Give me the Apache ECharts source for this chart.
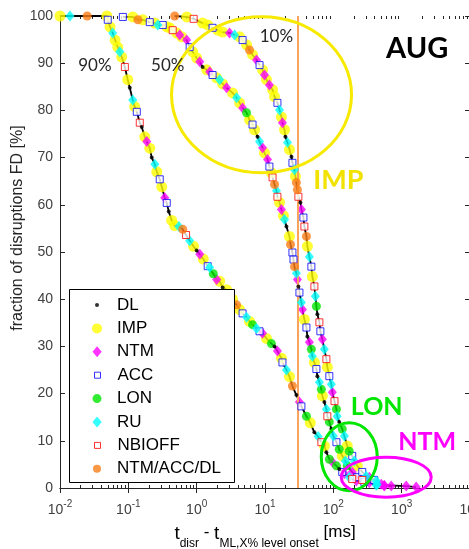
<!DOCTYPE html>
<html>
<head>
<meta charset="utf-8">
<script src="https://cdn.jsdelivr.net/npm/echarts@6/dist/echarts.min.js"></script>
<style>
  html, body { margin: 0; padding: 0; background: #fff; }
  #chart { width: 469px; height: 549px; }
</style>
</head>
<body>
<div id="chart"></div>
<script>
// category codes: D=DL I=IMP N=NTM A=ACC L=LON R=RU B=NBIOFF O=NTM/ACC/DL
const categoryCodes = ["D", "I", "N", "A", "L", "R", "B", "O"];
const categoryNames = ["DL", "IMP", "NTM", "ACC", "LON", "RU", "NBIOFF", "NTM/ACC/DL"];

// [t_disr - t_ML (ms), FD (%), category]
const curve90 = [
  [0.010, 100, "I"], [0.014, 100, "R"], [0.025, 100, "O"], [0.0485, 100, "I"],
  [0.050, 99.2, "A"], [0.054, 97.7, "I"], [0.059, 96.4, "R"], [0.064, 94.9, "I"],
  [0.070, 93.4, "I"], [0.075, 92.4, "R"], [0.080, 91.3, "I"], [0.089, 89.2, "B"],
  [0.098, 86.5, "I"], [0.105, 84.8, "D"], [0.116, 82.2, "R"], [0.124, 80.8, "I"],
  [0.133, 79.7, "A"], [0.147, 77.4, "B"], [0.157, 76.5, "D"], [0.174, 74.4, "I"],
  [0.186, 73.4, "N"], [0.206, 72.0, "I"], [0.220, 70.0, "D"], [0.244, 68.6, "R"],
  [0.261, 67.0, "I"], [0.288, 65.4, "A"], [0.308, 63.8, "I"], [0.341, 61.5, "N"],
  [0.365, 60.4, "A"], [0.390, 58.6, "D"], [0.431, 56.7, "I"], [0.477, 55.6, "I"],
  [0.55, 55.4, "R"], [0.625, 54.8, "O"], [0.70, 53.6, "B"], [0.79, 52.4, "R"],
  [0.90, 51.2, "I"], [1.00, 50.3, "D"], [1.11, 49.5, "N"], [1.25, 48.5, "I"],
  [1.45, 47.0, "A"], [1.55, 46.7, "R"], [1.75, 45.4, "L"], [1.96, 44.2, "N"],
  [2.17, 43.8, "I"], [2.40, 42.5, "D"], [2.74, 42.0, "I"], [3.03, 41.0, "R"],
  [3.35, 40.0, "I"], [3.84, 38.8, "O"], [4.25, 37.8, "I"], [4.70, 37.0, "A"],
  [5.37, 36.2, "R"], [5.94, 35.3, "I"], [6.57, 34.6, "L"], [7.52, 33.8, "R"],
  [8.32, 33.2, "A"], [9.20, 32.8, "N"], [10.5, 31.7, "I"], [12.4, 30.6, "L"],
  [13.8, 30.0, "D"], [15.2, 29.0, "N"], [17.4, 27.5, "I"], [18.0, 26.6, "A"],
  [20.6, 25.0, "R"], [22.8, 23.6, "I"], [25.2, 21.6, "O"], [28.8, 19.7, "D"],
  [31.9, 18.2, "N"], [34.1, 17.3, "A"], [40.4, 15.2, "L"], [46, 13.8, "I"],
  [52.8, 11.8, "D"], [60, 10.9, "R"], [66.8, 9.7, "B"], [73.9, 8.9, "I"],
  [79.1, 7.6, "D"], [87.4, 6.1, "L"], [96.7, 5.5, "N"], [111, 4.7, "L"],
  [122, 4.0, "D"], [135, 3.4, "A"], [145, 3.0, "N"], [171, 2.3, "R"],
  [189, 1.9, "B"], [217, 1.5, "N"], [284, 1.3, "A"], [439, 0.8, "R"],
  [556, 0.6, "N"], [1165, 0.4, "N"], [1630, 0.2, "N"]
];

const curve50 = [
  [0.0832, 99.8, "A"], [0.116, 99.8, "I"], [0.138, 99.2, "O"], [0.163, 99.2, "I"],
  [0.206, 98.7, "A"], [0.244, 98.5, "I"], [0.270, 98.1, "R"], [0.319, 98.1, "A"],
  [0.365, 97.7, "I"], [0.403, 97.5, "I"], [0.446, 97.0, "B"], [0.511, 96.4, "I"],
  [0.565, 96.0, "N"], [0.604, 95.6, "I"], [0.715, 94.9, "N"], [0.79, 93.4, "A"],
  [0.875, 92.4, "I"], [1.00, 91.1, "I"], [1.11, 90.3, "N"], [1.22, 89.2, "D"],
  [1.40, 88.6, "I"], [1.55, 88.2, "N"], [1.71, 87.5, "A"], [1.96, 86.9, "I"],
  [2.17, 86.5, "R"], [2.40, 85.6, "I"], [2.74, 84.8, "N"], [3.35, 83.7, "I"],
  [3.84, 82.7, "R"], [4.25, 81.6, "I"], [4.70, 80.5, "N"], [5.37, 79.5, "L"],
  [5.94, 78.0, "I"], [6.57, 77.0, "A"], [7.03, 75.9, "I"], [7.78, 74.4, "D"],
  [8.32, 73.4, "R"], [9.20, 72.1, "N"], [9.84, 71.0, "I"], [10.9, 69.6, "N"],
  [11.6, 68.1, "A"], [12.4, 66.8, "I"], [12.9, 65.8, "B"], [13.8, 64.3, "O"],
  [14.7, 63.0, "R"], [15.2, 61.7, "B"], [16.3, 60.5, "I"], [17.4, 59.0, "N"],
  [18.6, 57.7, "I"], [19.3, 56.9, "R"], [20.6, 55.4, "D"], [22.8, 53.3, "I"],
  [23.6, 51.6, "O"], [25.2, 49.9, "A"], [26.1, 48.4, "A"], [27.0, 46.9, "O"],
  [28.8, 45.5, "R"], [29.8, 44.2, "N"], [30.8, 42.7, "D"], [31.9, 41.4, "A"],
  [34.1, 39.3, "R"], [35.3, 37.8, "N"], [37.7, 35.7, "I"], [40.4, 34.0, "A"],
  [41.7, 32.1, "D"], [44.6, 30.9, "N"], [47.7, 29.4, "L"], [49.3, 27.9, "R"],
  [52.8, 26.6, "I"], [56.5, 25.2, "A"], [58.4, 23.7, "D"], [62.5, 22.4, "R"],
  [66.8, 20.9, "L"], [69.1, 19.5, "I"], [73.9, 18.2, "D"], [79.1, 16.7, "R"],
  [81.7, 15.2, "B"], [87.4, 14.0, "L"], [93.5, 12.5, "D"], [100, 11.0, "R"],
  [111, 9.7, "A"], [122, 8.2, "L"], [135, 6.8, "I"], [150, 5.7, "R"],
  [160, 4.7, "L"], [189, 3.4, "N"], [224, 2.3, "A"], [265, 1.7, "B"],
  [336, 1.1, "N"], [425, 0.6, "R"], [703, 0.4, "N"]
];

const curve10 = [
  [0.477, 100, "O"], [0.715, 99.8, "I"], [0.904, 99.4, "B"], [1.22, 98.5, "I"],
  [1.45, 98.1, "I"], [1.71, 97.5, "A"], [2.03, 97.0, "I"], [2.40, 96.6, "I"],
  [3.03, 96.4, "N"], [3.59, 96.0, "R"], [4.25, 95.6, "I"], [4.70, 94.9, "A"],
  [5.37, 93.9, "I"], [5.94, 92.8, "O"], [6.57, 91.8, "I"], [7.52, 90.7, "N"],
  [8.32, 89.6, "A"], [9.20, 88.6, "I"], [9.84, 87.5, "N"], [10.5, 86.5, "I"],
  [11.6, 85.4, "N"], [12.9, 84.4, "I"], [13.8, 82.9, "I"], [15.2, 81.6, "A"],
  [16.3, 80.1, "R"], [17.4, 78.6, "I"], [18.0, 77.4, "N"], [19.3, 75.9, "I"],
  [19.9, 74.4, "D"], [21.3, 73.2, "R"], [22.8, 71.7, "I"], [24.4, 70.2, "D"],
  [25.2, 68.9, "A"], [27.0, 67.4, "R"], [27.9, 66.0, "I"], [28.8, 64.7, "O"],
  [29.8, 63.2, "O"], [30.8, 61.7, "B"], [33.0, 60.5, "D"], [34.1, 59.0, "N"],
  [36.5, 57.3, "A"], [37.7, 55.4, "B"], [40.4, 53.3, "O"], [41.7, 51.2, "I"],
  [44.6, 49.0, "R"], [47.7, 46.9, "A"], [49.3, 44.8, "I"], [52.8, 42.7, "B"],
  [54.6, 40.6, "R"], [56.5, 38.5, "L"], [58.4, 36.8, "D"], [62.5, 35.1, "B"],
  [64.6, 33.2, "A"], [69.1, 31.5, "N"], [73.9, 29.4, "R"], [79.1, 27.3, "B"],
  [81.7, 25.6, "I"], [87.4, 23.7, "A"], [93.5, 22.0, "R"], [96.7, 20.3, "N"],
  [104, 18.4, "B"], [111, 16.7, "L"], [114, 15.2, "R"], [122, 14.0, "D"],
  [135, 12.5, "L"], [145, 11.0, "R"], [160, 8.9, "I"], [171, 7.8, "L"],
  [189, 6.8, "A"], [203, 5.7, "R"], [224, 4.7, "I"], [265, 3.4, "A"],
  [303, 2.5, "R"], [336, 2.3, "N"], [397, 1.7, "A"], [425, 1.5, "R"],
  [502, 0.8, "N"], [556, 0.4, "N"]
];

const curves = [curve90, curve50, curve10];
const onsetMarker = 30; // ms, vertical orange line

// annotation anchors in data coordinates
const curveLabels = [["90%", 0.0324, 89.5], ["50%", 0.377, 89.5], ["10%", 14.7, 95.7]];
const groupLabels = [["IMP", 118, 65.1, "#f2e200", 27], ["LON", 431, 17.2, "#00e600", 25], ["NTM", 2355, 9.7, "#ff00ff", 25]];
const ellipses = [[8.9, 83.3, 90, 78, "#f7e900"], [171, 6.6, 28, 34, "#00e600"], [594, 2.3, 45, 20, "#ff00ff"]];

const FONT = "Arial, 'Liberation Sans', sans-serif";
const diamondPath = "path://M5,0L10,6L5,12L0,6Z";
const squarePath = "path://M0,0H10V10H0Z";

const markers = {
  D: { symbol: "circle", size: 4, color: "#000000", icon: "circle", iconH: 4, iconW: 4 },
  I: { symbol: "circle", size: 11, color: "#ffff00", icon: "circle", iconH: 10, iconW: 10 },
  N: { symbol: "diamond", size: [9, 11], color: "#ff00ff", icon: diamondPath, iconH: 11, iconW: 9 },
  A: { symbol: "rect", size: 7, color: "#ffffff", border: "#0000ff", icon: squarePath, iconH: 6, iconW: 6 },
  L: { symbol: "circle", size: 9, color: "#00e600", icon: "circle", iconH: 9, iconW: 9 },
  R: { symbol: "diamond", size: [9, 11], color: "#00ffff", icon: diamondPath, iconH: 11, iconW: 9 },
  B: { symbol: "rect", size: 7, color: "#ffffff", border: "#ff0000", icon: squarePath, iconH: 6, iconW: 6 },
  O: { symbol: "circle", size: 9, color: "#fa7d16", icon: "circle", iconH: 8, iconW: 8 }
};

function pointsOf(code) {
  const out = [];
  curves.forEach((c) => c.forEach((p) => { if (p[2] === code) out.push([p[0], p[1]]); }));
  return out;
}

const minorTicks = [];
for (let e = -2; e <= 3; e++) {
  for (let m = 2; m <= 9; m++) minorTicks.push(m * Math.pow(10, e));
}

const axisColor = "#262626";
const logAxis = { type: "log", logBase: 10, min: 0.01, max: 10000, gridIndex: 0, splitLine: { show: false } };

const chart = echarts.init(document.getElementById("chart"));

// draw order: IMP first (underneath), DL last
const drawOrder = ["I", "N", "A", "L", "R", "B", "O", "D"];
const scatterSeries = drawOrder.map((code, i) => {
  const m = markers[code];
  return {
    name: categoryNames[categoryCodes.indexOf(code)],
    type: "scatter",
    symbol: m.symbol,
    symbolSize: m.size,
    z: 3 + i,
    itemStyle: m.border
      ? { color: m.color, borderColor: m.border, borderWidth: 1 }
      : { color: m.color },
    emphasis: { disabled: true },
    data: pointsOf(code)
  };
});

const lineSeries = curves.map((c) => ({
  type: "line",
  z: 2,
  showSymbol: false,
  silent: true,
  lineStyle: { color: "#000", width: 1.8 },
  data: c.map((p) => [p[0], p[1]])
}));

const legends = categoryCodes.map((code, i) => {
  const m = markers[code];
  return {
    data: [{ name: categoryNames[i], icon: m.icon, itemStyle: { borderWidth: m.border ? 1 : 0 } }],
    orient: "vertical",
    selectedMode: false,
    left: 97 - m.iconW / 2,
    top: 305 + i * 23.4 - 9,
    padding: 0,
    itemWidth: 30,
    itemHeight: m.iconH,
    z: 20,
    textStyle: { fontFamily: FONT, fontSize: 17, lineHeight: 18, color: "#000" }
  };
});

const option = {
  animation: false,
  grid: { left: 60, right: -1, top: 16, bottom: 61, outerBoundsMode: "none", containLabel: false },
  legend: legends,
  xAxis: [
    {
      ...logAxis,
      position: "bottom",
      axisLine: { show: true, lineStyle: { color: axisColor } },
      axisTick: { inside: true, length: 5, lineStyle: { color: axisColor } },
      axisLabel: {
        margin: 11,
        color: "#404040",
        fontFamily: FONT,
        formatter: (v) => "{b|10}{s|" + Math.round(Math.log10(v)) + "}",
        rich: {
          b: { fontSize: 14, lineHeight: 14, padding: [4, 0, 0, 0], verticalAlign: "top", fontFamily: FONT, color: "#404040" },
          s: { fontSize: 10, lineHeight: 10, verticalAlign: "top", fontFamily: FONT, color: "#404040" }
        }
      },
      name: "{t|t}{s|disr}{m| - }{t|t}{s|ML,X% level onset}{u| [ms]}",
      nameLocation: "middle",
      nameGap: 36,
      nameTextStyle: {
        rich: {
          t: { fontSize: 19, lineHeight: 22, verticalAlign: "top", fontFamily: FONT, color: "#000" },
          s: { fontSize: 12, lineHeight: 12, padding: [14, 0, 0, 0], verticalAlign: "top", fontFamily: FONT, color: "#000" },
          m: { fontSize: 17, lineHeight: 22, verticalAlign: "top", fontFamily: FONT, color: "#000" },
          u: { fontSize: 17, lineHeight: 22, verticalAlign: "top", fontFamily: FONT, color: "#000" }
        }
      }
    },
    {
      ...logAxis,
      position: "top",
      axisLine: { show: true, lineStyle: { color: axisColor } },
      axisTick: { inside: true, length: 5, lineStyle: { color: axisColor } },
      axisLabel: { show: false }
    },
    {
      ...logAxis,
      position: "bottom",
      axisLine: { show: false },
      axisTick: { inside: true, length: 3, customValues: minorTicks, lineStyle: { color: axisColor } },
      axisLabel: { show: false }
    },
    {
      ...logAxis,
      position: "top",
      axisLine: { show: false },
      axisTick: { inside: true, length: 3, customValues: minorTicks, lineStyle: { color: axisColor } },
      axisLabel: { show: false }
    }
  ],
  yAxis: [
    {
      type: "value",
      min: 0,
      max: 100,
      interval: 10,
      position: "left",
      splitLine: { show: false },
      axisLine: { show: true, lineStyle: { color: axisColor } },
      axisTick: { show: true, inside: true, length: 5, lineStyle: { color: axisColor } },
      axisLabel: { margin: 7, fontSize: 14, color: "#404040", fontFamily: FONT },
      name: "fraction of disruptions FD [%]",
      nameLocation: "middle",
      nameGap: 33,
      nameMoveOverlap: false,
      nameTextStyle: { fontSize: 16, lineHeight: 18, color: "#262626", fontFamily: FONT, padding: [0, 0, 0, 48] }
    },
    {
      type: "value",
      min: 0,
      max: 100,
      interval: 10,
      position: "right",
      splitLine: { show: false },
      axisLine: { show: true, lineStyle: { color: axisColor } },
      axisTick: { show: true, inside: true, length: 5, lineStyle: { color: axisColor } },
      axisLabel: { show: false }
    }
  ],
  series: [
    {
      type: "line",
      data: [],
      z: 1,
      markLine: {
        silent: true,
        symbol: "none",
        label: { show: false },
        lineStyle: { color: "#f9a35c", width: 2, type: "solid" },
        data: [{ xAxis: onsetMarker }]
      }
    },
    ...lineSeries,
    ...scatterSeries
  ]
};

chart.setOption(option);

// annotations anchored to data coordinates
const toPx = (x, y) => chart.convertToPixel({ xAxisIndex: 0, yAxisIndex: 0 }, [x, y]);
const graphics = [
  { type: "rect", z: 15, shape: { x: 69.5, y: 289.5, width: 165, height: 193 }, style: { fill: "#fff", stroke: "#000", lineWidth: 1 } }
];
ellipses.forEach(([x, y, rx, ry, color]) => {
  const p = toPx(x, y);
  graphics.push({ type: "ellipse", z: 12, shape: { cx: p[0], cy: p[1], rx, ry }, style: { fill: null, stroke: color, lineWidth: 3 } });
});
curveLabels.forEach(([t, x, y]) => {
  const p = toPx(x, y);
  graphics.push({ type: "text", z: 12, x: p[0], y: p[1], style: { text: t, fill: "#262626", font: "17px Lato, " + FONT, align: "center", verticalAlign: "middle", textAlign: "center", textVerticalAlign: "middle" } });
});
groupLabels.forEach(([t, x, y, color, size]) => {
  const p = toPx(x, y);
  graphics.push({ type: "text", z: 12, x: p[0], y: p[1], style: { text: t, fill: color, font: "bold " + size + "px Lato, " + FONT, align: "center", verticalAlign: "middle", textAlign: "center", textVerticalAlign: "middle" } });
});
{
  const p = toPx(1683, 93.0);
  graphics.push({ type: "text", z: 12, x: p[0], y: p[1], style: { text: "AUG", fill: "#000", font: "bold 29px Lato, " + FONT, align: "center", verticalAlign: "middle", textAlign: "center", textVerticalAlign: "middle" } });
}
chart.setOption({ graphic: graphics });
</script>
</body>
</html>
